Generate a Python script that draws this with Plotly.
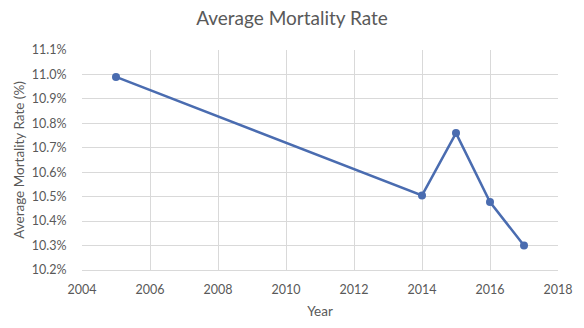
import plotly.graph_objects as go

years = [2005, 2014, 2015, 2016, 2017]
mortality = [10.99, 10.505, 10.76, 10.478, 10.30]
y_ticks = [10.2, 10.3, 10.4, 10.5, 10.6, 10.7, 10.8, 10.9, 11.0, 11.1]
y_tick_labels = [f"{v:.1f}%" for v in y_ticks]
x_ticks = [2004, 2006, 2008, 2010, 2012, 2014, 2016, 2018]

FONT = "Lato"
GRAY = "#595959"

fig = go.Figure()
fig.add_trace(go.Scatter(
    x=years, y=mortality, mode="lines+markers",
    line=dict(color="#4A6CB0", width=2.5),
    marker=dict(color="#4A6CB0", size=8),
    showlegend=False,
))

fig.update_layout(
    width=584, height=328,
    margin=dict(l=82, r=26, t=50, b=58),
    paper_bgcolor="white", plot_bgcolor="white",
    font=dict(family=FONT, color=GRAY, size=12),
    title=dict(text="Average Mortality Rate", x=0.5, xanchor="center",
               y=0.945, yanchor="middle",
               font=dict(family=FONT, size=19, color=GRAY)),
    xaxis=dict(
        range=[2004, 2018], tickvals=x_ticks, ticktext=[str(v) for v in x_ticks],
        showgrid=True, gridcolor="#D9D9D9", gridwidth=1,
        showline=True, linecolor="#D9D9D9", zeroline=False,
        ticks="outside", ticklen=8, tickcolor="rgba(0,0,0,0)",
        tickfont=dict(size=12.5, color=GRAY),
        title=dict(text="Year", font=dict(size=13.5, color=GRAY), standoff=10),
    ),
    yaxis=dict(
        range=[10.2, 11.1], tickvals=y_ticks, ticktext=y_tick_labels,
        showgrid=True, gridcolor="#D9D9D9", gridwidth=1,
        showline=False, zeroline=False,
        ticks="outside", ticklen=12, tickcolor="rgba(0,0,0,0)",
        tickfont=dict(size=12.5, color=GRAY),
        title=dict(text="Average Mortality Rate (%)", font=dict(size=13.5, color=GRAY), standoff=4),
    ),
)

fig.write_html("out.html")
